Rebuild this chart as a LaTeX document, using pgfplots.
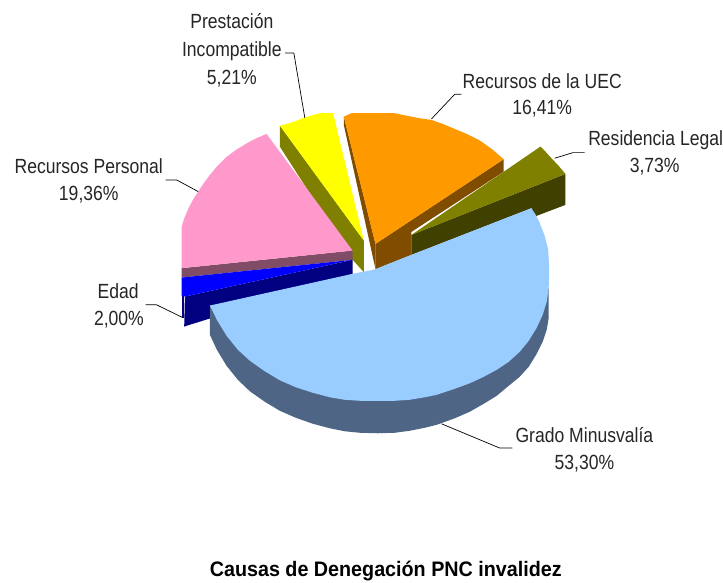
\documentclass[border=0pt]{standalone}
\usepackage{pgfplots}
\pgfplotsset{compat=1.18}
\usepackage{fontspec}
\setmainfont[FakeStretch=0.857]{Liberation Sans}
\newfontfamily\titlefont[FakeStretch=0.94]{Liberation Sans}
\definecolor{cBlueTop}{RGB}{153,204,255}
\definecolor{cBlueSide}{RGB}{79,101,133}
\definecolor{cPink}{RGB}{255,153,204}
\definecolor{cPinkSide}{RGB}{128,76,102}
\definecolor{cOrangeSide}{RGB}{128,76,0}
\definecolor{cOrange}{RGB}{255,153,0}
\definecolor{cOlive}{RGB}{128,128,0}
\definecolor{cOliveSide}{RGB}{64,64,0}
\definecolor{cNavy}{RGB}{0,0,128}
\definecolor{cYellow}{RGB}{255,255,0}
\definecolor{cBlue}{RGB}{0,0,255}
\tikzset{lab/.style={anchor=base, font=\fontsize{20.5}{22}\selectfont, text=black!85, inner sep=0pt, outer sep=0pt}}
\begin{document}
\begin{tikzpicture}
\begin{axis}[
  scale only axis, width=723pt, height=583pt,
  xmin=0, xmax=723, ymin=0, ymax=583, y dir=reverse,
  hide axis, clip=false,
  every axis plot/.append style={line width=0pt, draw=none, forget plot},
]
% page extent
\addplot[fill=white] coordinates {(0,0)(723,0)(723,583)(0,583)} -- cycle;

% Yellow slice: side then top
\addplot[fill=cOlive] coordinates {(280,125.7)(364,240.7)(364,272.3)(352,259)(280,146.7)} -- cycle;
\addplot[fill=cYellow] coordinates {(280,125.7)(287,124)(295,121.5)(302,118.5)(310,116)(320,113.3)(333.3,113.3)(364,240.7)} -- cycle;

% Pink slice
\addplot[fill=cPinkSide] coordinates {(181.7,268.3)(352.7,250.7)(352.7,260)(181.7,277.7)} -- cycle;
\addplot[fill=cPink] coordinates {(352.7,250.7)(266.7,134)(256,138.5)(246.7,143.5)(236,150)(226.7,157)(218,165.5)(210,175)(204,183)(198.3,191.7)(193,200)(188.3,209)(184.5,218)(181.7,227)(181.7,268.3)} -- cycle;

% Edad slice
\addplot[fill=cNavy] coordinates {(181.7,287)(184.3,287)(184.3,318)(181.7,318)} -- cycle;
\addplot[fill=cNavy] coordinates {(185,296.7)(352.7,260)(352.7,274)(184.3,326.7)} -- cycle;
\addplot[fill=cBlue] coordinates {(352.7,260)(181.7,277.7)(181.7,296)(185,296.7)} -- cycle;

% Orange slice
\addplot[fill=cOrangeSide] coordinates {(344,116.7)(375.7,244)(375.7,269.3)(344,125)} -- cycle;
\addplot[fill=cOrangeSide] coordinates {(375.7,244)(504,159.3)(504,171.7)(411.7,232)(411.7,255)(375.7,269.3)} -- cycle;
\addplot[fill=cOrange] coordinates {(375.7,244)(344,116.7)(351.7,113.3)(373,113.3)(395,113.3)(408,116)(420,118.3)(431.7,120)(443,124)(453.3,128.3)(467,134)(480,140.5)(492,149)(504,159.3)} -- cycle;

% Residencia slice
\addplot[fill=cOliveSide] coordinates {(411.7,235)(565.7,174)(565.7,205)(535,216.7)(531.7,208.3)(411.7,255)} -- cycle;
\addplot[fill=cOlive] coordinates {(411.7,235)(540.7,146.7)(546,152)(551.7,158.3)(559,166)(565.7,174)} -- cycle;

% Grado Minusvalia
\addplot[fill=cBlueSide] coordinates {(210,305.7)(549,288.3)(549,318)(547,330)(543,342)(537,354)(529,367)(520,377)(509,386)(497,396)(484,404)(470,412)(455,418.5)(437,425)(425,428)(410,431)(395,433)(378,433.5)(360,433)(345,431.5)(330,428.5)(313,424)(296,418)(280,411)(265,402)(250,391.5)(238,380)(226.7,366)(217,350)(210,335)} -- cycle;
\addplot[fill=cBlueTop] coordinates {(210,305.7)(352.7,274)(373.3,270)(375.7,269.3)(411.7,255)(531.7,208.3)(536,215)(540,223)(545,236)(548.5,250)(549.5,270)(549,288)(547,302)(543,315)(537,328)(529,341)(520,352)(509,362)(497,370)(484,377)(470,383.5)(455,389)(437,395)(425,397.5)(410,400)(395,401)(378,401)(360,401)(345,400)(330,397.5)(313,393)(296,387.5)(280,380.5)(265,371.5)(250,361)(238,350)(226.7,336)(217,320)} -- cycle;

% Leader lines
\addplot[draw=black, line width=0.7pt, no marks] coordinates {(285,53)(294,53)(305,118)};
\addplot[draw=black, line width=0.7pt, no marks] coordinates {(431.7,119)(455,94.3)(461.7,94.3)};
\addplot[draw=black, line width=0.7pt, no marks] coordinates {(555,158.3)(573.3,152.7)(585,152.7)};
\addplot[draw=black, line width=0.7pt, no marks] coordinates {(198.3,191.7)(176.7,180)(165.7,180)};
\addplot[draw=black, line width=0.7pt, no marks] coordinates {(182.7,317.7)(156.7,305)(145.7,305)};
\addplot[draw=black, line width=0.7pt, no marks] coordinates {(441.7,424)(500,448.3)(512.7,448.3)};

% Labels
\node[lab] at (axis cs:232,29) {Prestación};
\node[lab] at (axis cs:232,56.4) {Incompatible};
\node[lab] at (axis cs:232,85) {5,21\%};
\node[lab] at (axis cs:542.5,88.4) {Recursos de la UEC};
\node[lab] at (axis cs:542.5,115) {16,41\%};
\node[lab] at (axis cs:656,145.7) {Residencia Legal};
\node[lab] at (axis cs:655,172.4) {3,73\%};
\node[lab] at (axis cs:88.8,173.4) {Recursos Personal};
\node[lab] at (axis cs:88.8,200.7) {19,36\%};
\node[lab] at (axis cs:118.3,299) {Edad};
\node[lab] at (axis cs:119,325.7) {2,00\%};
\node[lab] at (axis cs:584.7,442.4) {Grado Minusvalía};
\node[lab] at (axis cs:584.7,470) {53,30\%};
\node[lab, font=\titlefont\fontsize{21}{23}\selectfont\bfseries, text=black] at (axis cs:386,577) {Causas de Denegación PNC invalidez};
\end{axis}
\end{tikzpicture}
\end{document}
